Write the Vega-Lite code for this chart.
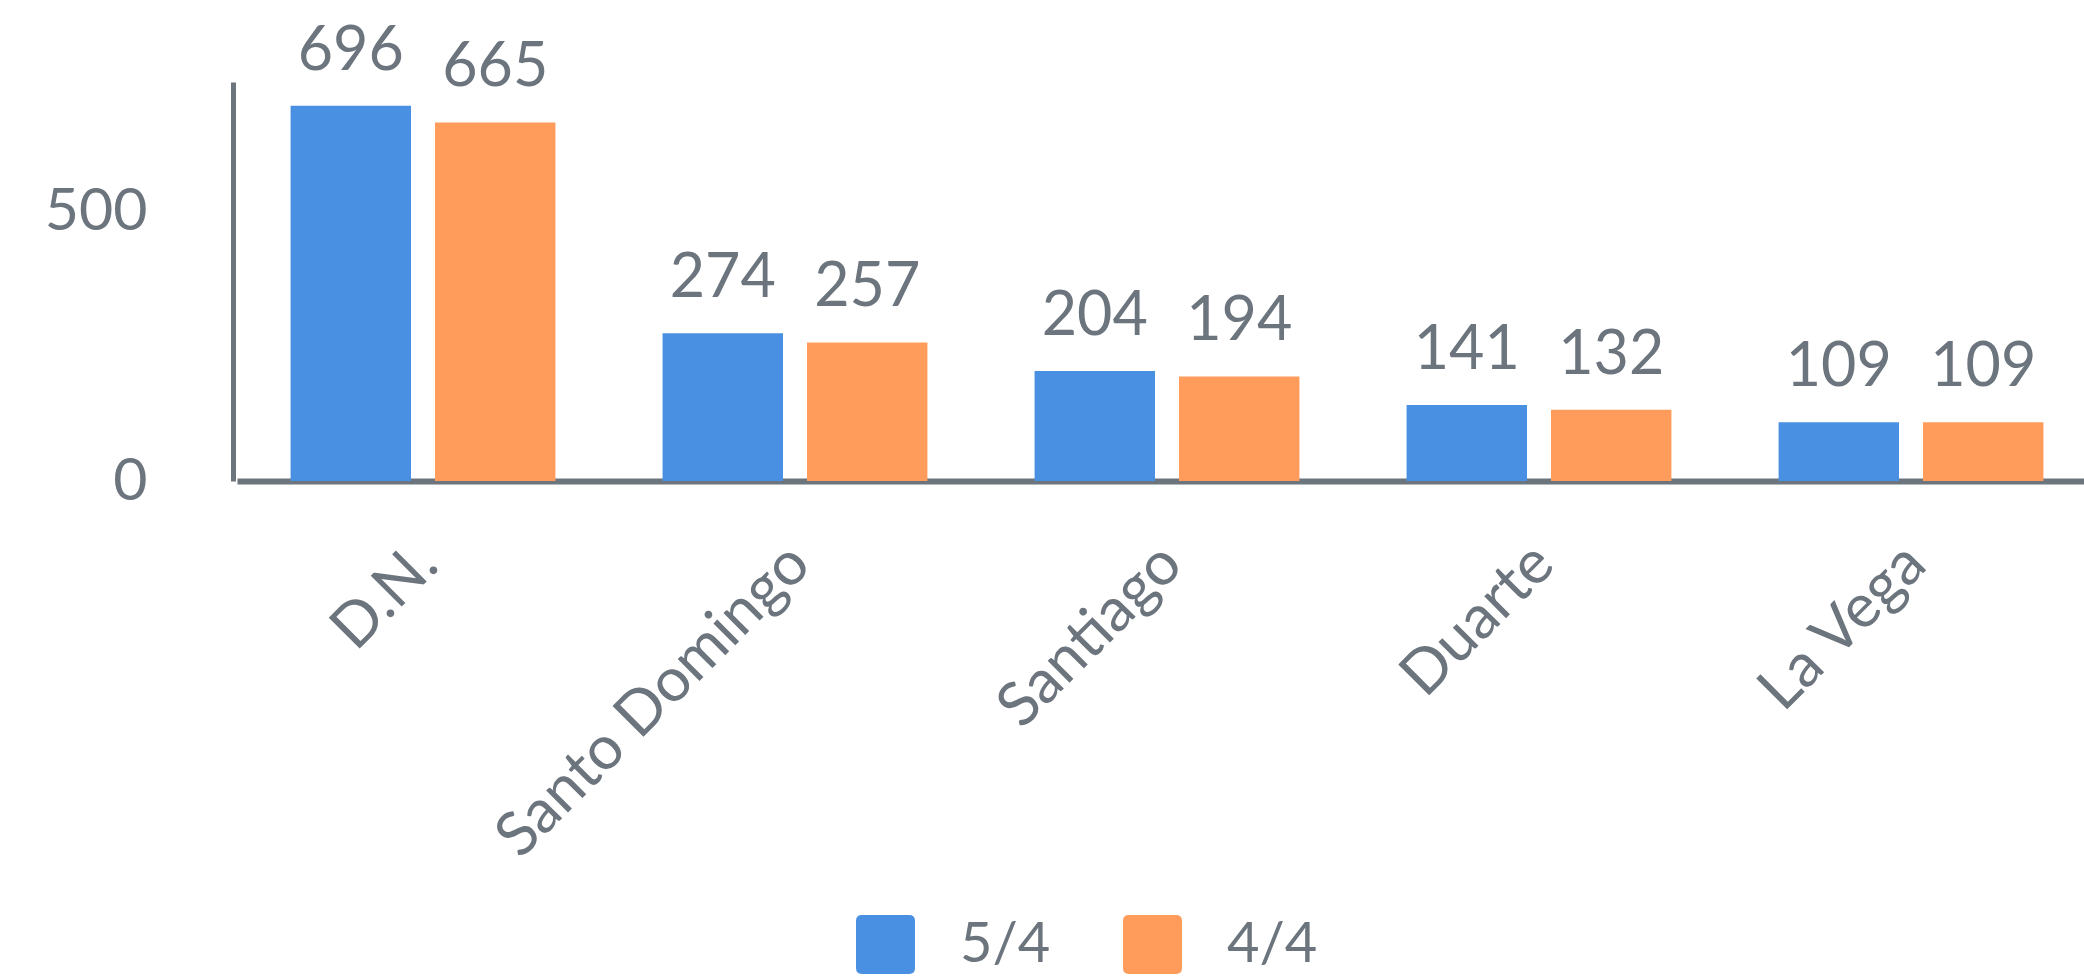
{
  "$schema": "https://vega.github.io/schema/vega-lite/v6.json",
  "autosize": "none",
  "width": 1860,
  "height": 399,
  "padding": {"left": 237, "top": 82, "right": 0, "bottom": 498},
  "background": "white",
  "config": {
    "font": "Lato",
    "view": {"stroke": null},
    "axis": {"labelFont": "Lato", "labelColor": "#6c757d", "domainColor": "#6c757d", "grid": false, "ticks": false, "tickSize": 0, "title": null},
    "legend": {"labelFont": "Lato"}
  },
  "data": {
    "values": [
      {"region": "D.N.", "period": "5/4", "value": 696},
      {"region": "D.N.", "period": "4/4", "value": 665},
      {"region": "Santo Domingo", "period": "5/4", "value": 274},
      {"region": "Santo Domingo", "period": "4/4", "value": 257},
      {"region": "Santiago", "period": "5/4", "value": 204},
      {"region": "Santiago", "period": "4/4", "value": 194},
      {"region": "Duarte", "period": "5/4", "value": 141},
      {"region": "Duarte", "period": "4/4", "value": 132},
      {"region": "La Vega", "period": "5/4", "value": 109},
      {"region": "La Vega", "period": "4/4", "value": 109}
    ]
  },
  "encoding": {
    "x": {
      "field": "region", "type": "nominal",
      "sort": ["D.N.", "Santo Domingo", "Santiago", "Duarte", "La Vega"],
      "scale": {"paddingInner": 0.288, "paddingOuter": 0.144},
      "axis": {"labelAngle": -45, "labelFontSize": 61, "labelPadding": 52, "labelOffset": -16, "domainWidth": 6, "labelOverlap": false, "labelLimit": 0}
    },
    "xOffset": {
      "field": "period", "type": "nominal",
      "sort": ["5/4", "4/4"],
      "scale": {"paddingInner": 0.166, "paddingOuter": 0}
    },
    "y": {
      "field": "value", "type": "quantitative",
      "scale": {"domain": [0, 740], "nice": false},
      "axis": {"values": [0, 500], "labelFontSize": 59, "labelPadding": 86, "offset": 4, "domainWidth": 5}
    }
  },
  "layer": [
    {
      "mark": {"type": "bar"},
      "encoding": {
        "color": {
          "field": "period", "type": "nominal",
          "scale": {"domain": ["5/4", "4/4"], "range": ["#4A90E2", "#FF9C5B"]},
          "legend": {
            "title": null, "orient": "none", "direction": "horizontal",
            "legendX": 619, "legendY": 833,
            "symbolType": "M -0.8 -1 H 0.8 Q 1 -1 1 -0.8 V 0.8 Q 1 1 0.8 1 H -0.8 Q -1 1 -1 0.8 V -0.8 Q -1 -1 -0.8 -1 Z",
            "symbolSize": 3480, "symbolStrokeWidth": 0, "symbolOpacity": 1,
            "labelFontSize": 56, "labelColor": "#6c757d", "labelOffset": 45,
            "columnPadding": 72, "padding": 0
          }
        }
      }
    },
    {
      "mark": {"type": "text", "baseline": "alphabetic", "dy": -36, "fontSize": 61, "color": "#6c757d", "font": "Lato"},
      "encoding": {"text": {"field": "value", "type": "quantitative"}}
    }
  ]
}
